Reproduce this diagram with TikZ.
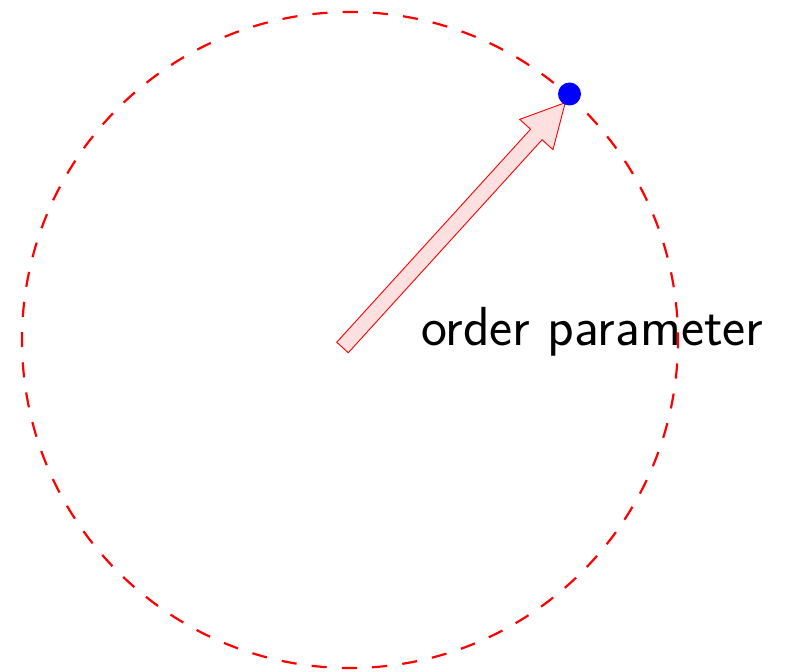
\documentclass[tikz,border=0pt]{standalone}
\usetikzlibrary{calc}
\begin{document}
\begin{tikzpicture}[x=1pt,y=1pt,
  orbit/.style={draw=red,line width=2.2pt,dash pattern=on 15.15pt off 15.15pt,dash phase=7.58pt},
  arrowshape/.style={draw=red,fill=red!12,line width=0.9pt,line join=miter},
  dotstyle/.style={circle,fill=blue,inner sep=0pt,minimum size=23pt},
  lbl/.style={font=\sffamily\fontsize{55}{66}\selectfont,inner sep=0pt,anchor=base west}]
\useasboundingbox (0,0) rectangle (785,672);
\node[lbl] (label) at (421,326.5) {order parameter};
\coordinate (c) at (350,332);
\draw[orbit] (c) circle[radius=328];
\coordinate (tail) at (342.5,324.5);
\begin{scope}[shift={(tail)},rotate=47.7]
\draw[arrowshape] (0,-7.8) -- (288,-7.8) -- (288,-22.5) -- (331,0) -- (288,22.5) -- (288,7.8) -- (0,7.8) -- cycle;
\end{scope}
\node[dotstyle] (dot) at (569.5,578) {};
\end{tikzpicture}
\end{document}
